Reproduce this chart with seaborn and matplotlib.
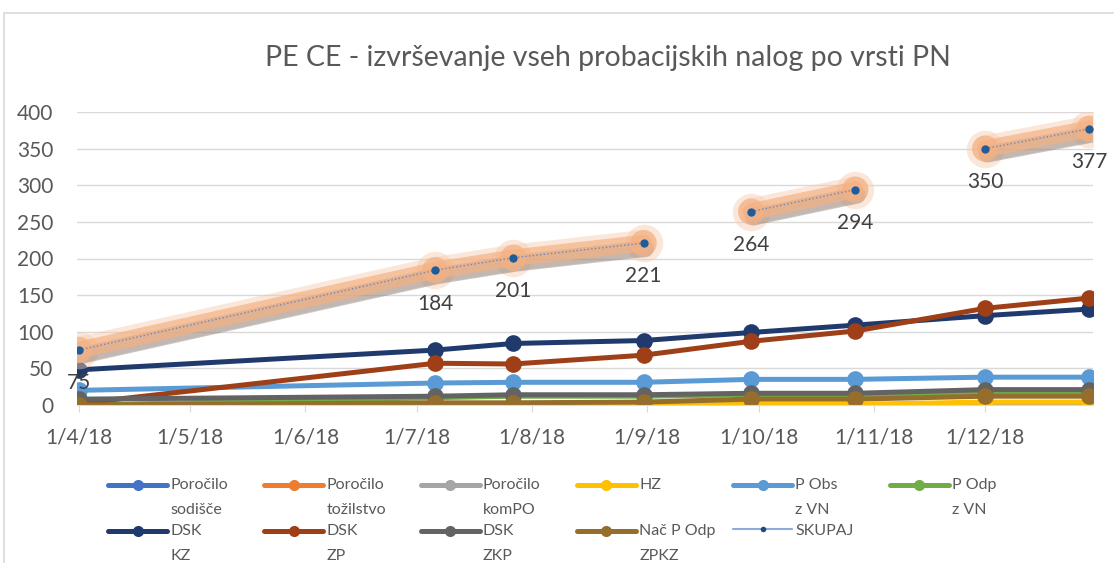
import numpy as np
import pandas as pd
import matplotlib.pyplot as plt
import matplotlib.patheffects as pe
from matplotlib.lines import Line2D
from matplotlib.legend_handler import HandlerLine2D
from matplotlib.patches import Rectangle
import seaborn as sns

# podatki (odčitani s slike)
datumi = ["2018-04-01", "2018-07-06", "2018-07-27", "2018-08-31",
          "2018-09-29", "2018-10-27", "2018-12-01", "2018-12-29"]

porocilo_sodisce = [0, 0, 0, 0, 0, 0, 0, 0]
porocilo_tozilstvo = [0, 0, 0, 0, 0, 0, 0, 0]
porocilo_kompo = [0, 0, 0, 0, 0, 0, 0, 0]
hz = [0, 0, 0, 0, 1, 1, 4, 4]
p_obs_vn = [20, 30, 31, 31, 35, 35, 38, 38]
p_odp_vn = [0, 10, 12, 12, 14, 14, 18, 18]
dsk_kz = [48, 75, 84, 88, 99, 109, 122, 131]
dsk_zp = [2, 57, 56, 68, 87, 101, 132, 146]
dsk_zkp = [8, 12, 14, 14, 16, 16, 21, 21]
nac_p_odp_zpkz = [0, 3, 3, 4, 8, 8, 12, 12]
skupaj = [75, 184, 201, 221, 264, 294, 350, 377]
skupaj_odsek = [0, 0, 0, 0, 1, 1, 2, 2]

serije = ["Poročilo\nsodišče", "Poročilo\ntožilstvo", "Poročilo\nkomPO", "HZ\n",
          "P Obs\nz VN", "P Odp\nz VN", "DSK\nKZ", "DSK\nZP", "DSK\nZKP", "Nač P Odp\nZPKZ"]
vrednosti = [porocilo_sodisce, porocilo_tozilstvo, porocilo_kompo, hz, p_obs_vn,
             p_odp_vn, dsk_kz, dsk_zp, dsk_zkp, nac_p_odp_zpkz]
barve = ["#4472C4", "#ED7D31", "#A5A5A5", "#FFC000", "#5B9BD5",
         "#70AD47", "#203A6E", "#9E3F18", "#636363", "#946E2A"]

y_ticks = [0, 50, 100, 150, 200, 250, 300, 350, 400]
x_ticks = ["2018-04-01", "2018-05-01", "2018-06-01", "2018-07-01", "2018-08-01",
           "2018-09-01", "2018-10-01", "2018-11-01", "2018-12-01"]
x_tick_labels = ["1/4/18", "1/5/18", "1/6/18", "1/7/18", "1/8/18",
                 "1/9/18", "1/10/18", "1/11/18", "1/12/18"]

naslov = "PE CE - izvrševanje vseh probacijskih nalog po vrsti PN"

sns.set_style("white")
plt.rcParams["font.family"] = ["Lato", "DejaVu Sans"]

df = pd.DataFrame({
    "datum": pd.to_datetime(datumi * len(serije)),
    "serija": [s for s in serije for _ in datumi],
    "vrednost": [v for vr in vrednosti for v in vr],
})
df_skupaj = pd.DataFrame({"datum": pd.to_datetime(datumi), "vrednost": skupaj, "odsek": skupaj_odsek})

fig = plt.figure(figsize=(11.14, 5.63), dpi=100)
ax = fig.add_axes([77 / 1114, 1 - 405 / 563, (1093 - 77) / 1114, (405 - 112) / 563])

sns.lineplot(data=df, x="datum", y="vrednost", hue="serija", hue_order=serije,
             palette=dict(zip(serije, barve)), marker="o", markersize=12,
             markeredgewidth=0, linewidth=3.6, legend=False, errorbar=None, ax=ax)

senca = [pe.SimpleLineShadow(offset=(1.5, -4), shadow_color="#5f5f5f", alpha=0.35), pe.Normal()]
for odsek in sorted(set(skupaj_odsek)):
    d = df_skupaj[df_skupaj["odsek"] == odsek]
    # mehak sij
    sns.lineplot(data=d, x="datum", y="vrednost", color="#F8CBAD", alpha=0.45, linewidth=19,
                 marker="o", markersize=27, markeredgewidth=0, errorbar=None,
                 solid_capstyle="round", ax=ax)
    sns.lineplot(data=d, x="datum", y="vrednost", color="#F4B183", alpha=0.7, linewidth=12,
                 marker="o", markersize=19, markeredgewidth=0, errorbar=None,
                 solid_capstyle="round", path_effects=senca, ax=ax)
    sns.lineplot(data=d, x="datum", y="vrednost", color="#6F86B8", linewidth=1, linestyle=":",
                 marker="o", markersize=6, markeredgewidth=0, markerfacecolor="#1F5C99",
                 errorbar=None, ax=ax)

for dt, v in zip(df_skupaj["datum"], skupaj):
    ax.annotate(str(v), (dt, v), xytext=(0, -24), textcoords="offset points",
                ha="center", va="center", fontsize=15, color="#404040")

ax.set_ylim(0, 400)
ax.set_xlim(pd.Timestamp("2018-03-31 12:00"), pd.Timestamp("2018-12-30"))
ax.set_yticks(y_ticks)
ax.set_xticks(pd.to_datetime(x_ticks))
ax.set_xticklabels(x_tick_labels)
ax.set_xlabel("")
ax.set_ylabel("")
ax.yaxis.grid(True, color="#D9D9D9", linewidth=1)
ax.set_axisbelow(True)
for s in ["top", "right", "left"]:
    ax.spines[s].set_visible(False)
ax.spines["bottom"].set_color("#D9D9D9")
ax.tick_params(axis="y", length=0, pad=17, labelsize=15, labelcolor="#595959")
ax.tick_params(axis="x", direction="out", length=5, color="#D9D9D9", pad=11,
               labelsize=15, labelcolor="#595959", bottom=True)

fig.text(608 / 1114, 1 - 58 / 563, naslov, ha="center", va="center", fontsize=20.5, color="#595959")

# okvir grafikona
fig.patches.append(Rectangle((4 / 1114, -0.1), 1.2, 1 - 13 / 563 + 0.1, transform=fig.transFigure,
                             fill=False, edgecolor="#D9D9D9", linewidth=1.2))


class ZgornjiHandler(HandlerLine2D):
    def create_artists(self, legend, orig_handle, xdescent, ydescent, width, height, fontsize, trans):
        artists = super().create_artists(legend, orig_handle, xdescent, ydescent, width, height, fontsize, trans)
        if "\n" in orig_handle.get_label():
            for a in artists:
                a.set_ydata(np.asarray(a.get_ydata()) + fontsize * 0.76)
        return artists


rocke = [Line2D([], [], color=c, linewidth=3.6, marker="o", markersize=8, markeredgewidth=0, label=s)
         for s, c in zip(serije, barve)]
rocke.append(Line2D([], [], color="#8FAADC", linewidth=1.5, marker="o", markersize=4,
                    markerfacecolor="#1F4E79", markeredgewidth=0, label="SKUPAJ"))

# legenda: 6 stolpcev enake širine, dve vrstici
for stolpec in range(6):
    h = [rocke[i] for i in (stolpec, stolpec + 6) if i < len(rocke)]
    leg = fig.legend(handles=h, labels=[x.get_label() for x in h],
                     loc="upper left", bbox_to_anchor=((108 + stolpec * 156.3) / 1114, 1 - 478 / 563),
                     frameon=False, fontsize=11.5, handlelength=3.7, handletextpad=0.2,
                     labelspacing=0.42, borderpad=0, borderaxespad=0,
                     handler_map={Line2D: ZgornjiHandler()})
    for t in leg.get_texts():
        t.set_color("#595959")
        t.set_linespacing(2.0)

fig.savefig("out.png", dpi=100, facecolor="white")
